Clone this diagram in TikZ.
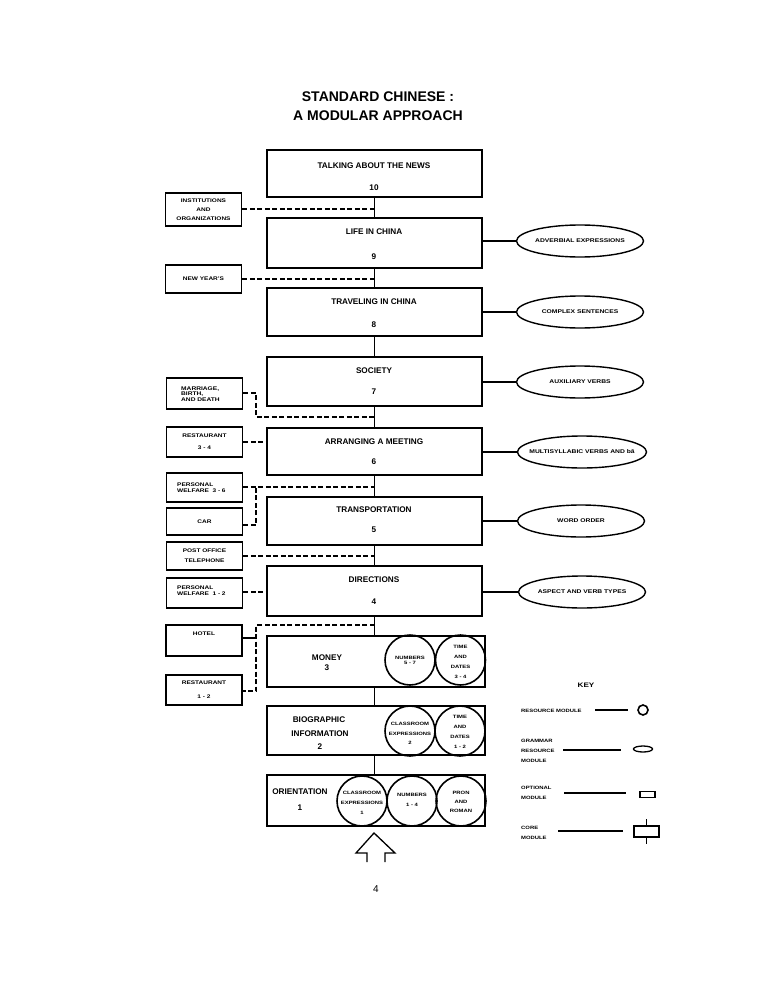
\documentclass[tikz,border=0pt]{standalone}
\usepackage{fontspec}
\usepackage{graphicx}
\setmainfont{Liberation Sans}
\newcommand\W[1]{\scalebox{1.25}[1]{#1}}
\usetikzlibrary{shapes.geometric}
\begin{document}
\begin{tikzpicture}[x=1pt,y=-1pt,
  core/.style={draw,line width=1.6pt,inner sep=0pt},
  ctext/.style={font=\bfseries\fontsize{8.2}{9}\selectfont,inner sep=0pt},
  opt/.style={draw,line width=1.6pt,inner sep=0pt,minimum width=76pt,align=center},
  gram/.style={draw,ellipse,line width=1.4pt,minimum width=127pt,minimum height=32pt,inner sep=0pt,font=\bfseries\fontsize{5.4}{7}\selectfont},
  res/.style={draw,circle,line width=1.6pt,minimum size=50pt,inner sep=0pt,align=center},
  ctxt/.style={font=\bfseries\fontsize{4.7}{10}\selectfont,inner sep=0pt},
  dsh/.style={line width=1.2pt,dash pattern=on 5pt off 2.5pt},
  sol/.style={line width=1.4pt},
  ktext/.style={font=\bfseries\fontsize{4.7}{10}\selectfont,inner sep=0pt,align=left,anchor=west},
]
\useasboundingbox (0,0) rectangle (768,995);
\fill[white] (0,0) rectangle (768,995);

% title
\node[font=\bfseries\fontsize{14}{16}\selectfont] (title1) at (378,97) {STANDARD CHINESE :};
\node[font=\bfseries\fontsize{14}{16}\selectfont] (title2) at (378,116) {A MODULAR APPROACH};

% core modules
\node[core,minimum width=215pt,minimum height=47pt] (b10) at (374.5,173.5) {};
\node[core,minimum width=215pt,minimum height=50pt] (b9) at (374.5,243) {};
\node[core,minimum width=215pt,minimum height=48pt] (b8) at (374.5,312) {};
\node[core,minimum width=215pt,minimum height=49pt] (b7) at (374.5,381.5) {};
\node[core,minimum width=215pt,minimum height=47pt] (b6) at (374.5,451.5) {};
\node[core,minimum width=215pt,minimum height=48pt] (b5) at (374.5,521) {};
\node[core,minimum width=215pt,minimum height=50pt] (b4) at (374.5,591) {};
\node[core,minimum width=218pt,minimum height=51pt] (b3) at (376,661.5) {};
\node[core,minimum width=218pt,minimum height=49pt] (b2) at (376,730.5) {};
\node[core,minimum width=218pt,minimum height=51pt] (b1) at (376,800.5) {};

\node[ctext] (b10t) at (374,166) {TALKING ABOUT THE NEWS};
\node[ctext] (b10n) at (374,188) {10};
\node[ctext] (b9t) at (374,232) {LIFE IN CHINA};
\node[ctext] (b9n) at (374,257) {9};
\node[ctext] (b8t) at (374,302) {TRAVELING IN CHINA};
\node[ctext] (b8n) at (374,325) {8};
\node[ctext] (b7t) at (374,371) {SOCIETY};
\node[ctext] (b7n) at (374,392) {7};
\node[ctext] (b6t) at (374,442) {ARRANGING A MEETING};
\node[ctext] (b6n) at (374,462) {6};
\node[ctext] (b5t) at (374,510) {TRANSPORTATION};
\node[ctext] (b5n) at (374,530) {5};
\node[ctext] (b4t) at (374,580) {DIRECTIONS};
\node[ctext] (b4n) at (374,602) {4};
\node[ctext] (b3t) at (327,658) {MONEY};
\node[ctext] (b3n) at (327,668) {3};
\node[ctext] (b2t) at (319,720) {BIOGRAPHIC};
\node[ctext] (b2u) at (320,734) {INFORMATION};
\node[ctext] (b2n) at (320,747) {2};
\node[ctext] (b1t) at (300,792) {ORIENTATION};
\node[ctext] (b1n) at (300,808) {1};

% resource modules (circles)
\node[res] (r3a) at (410,660) {};
\node[ctxt,align=center] (r3at) at (410,660.5) {\W{NUMBERS}\\[-5pt]\W{5 - 7}};
\node[res] (r3b) at (460.5,660) {};
\node[ctxt,align=center] (r3bt) at (460.5,661.5) {\W{TIME}\\\W{AND}\\\W{DATES}\\\W{3 - 4}};
\node[res] (r2a) at (410,731) {};
\node[ctxt,align=center] (r2at) at (410,733.5) {\W{CLASSROOM}\\[-0.5pt]\W{EXPRESSIONS}\\[-0.5pt]\W{2}};
\node[res] (r2b) at (460,731) {};
\node[ctxt,align=center] (r2bt) at (460,732) {\W{TIME}\\\W{AND}\\\W{DATES}\\\W{1 - 2}};
\node[res] (r1a) at (362,801) {};
\node[ctxt,align=center] (r1at) at (362,802.5) {\W{CLASSROOM}\\\W{EXPRESSIONS}\\\W{1}};
\node[res] (r1b) at (412,801) {};
\node[ctxt,align=center] (r1bt) at (412,800) {\W{NUMBERS}\\\W{1 - 4}};
\node[res] (r1c) at (461,801) {};
\node[ctxt,align=center] (r1ct) at (461,802) {\W{PRON}\\[-1pt]\W{AND}\\[-1pt]\W{ROMAN}};

% spine
\draw[sol] (b10.south) -- (b9.north);
\draw[sol] (b9.south) -- (b8.north);
\draw[sol] (b8.south) -- (b7.north);
\draw[sol] (b7.south) -- (b6.north);
\draw[sol] (b6.south) -- (b5.north);
\draw[sol] (b5.south) -- (b4.north);
\draw[sol] (b4.south) -- (b4.south |- b3.north);
\draw[sol] (b4.south |- b3.south) -- (b4.south |- b2.north);
\draw[sol] (b4.south |- b2.south) -- (b4.south |- b1.north);

% optional modules
\node[opt,minimum height=33pt,font=\bfseries\fontsize{5.2}{9}\selectfont] (o1) at (203.5,209.5) {\W{INSTITUTIONS}\\\W{AND}\\\W{ORGANIZATIONS}};
\node[opt,minimum height=28pt,font=\bfseries\fontsize{5.2}{9}\selectfont] (o2) at (203.5,279) {\W{NEW YEAR'S}};
\node[opt,minimum height=31pt] (o3) at (204.5,393.5) {};
\node[font=\bfseries\fontsize{5.3}{5.8}\selectfont,align=left,anchor=west,inner sep=0pt] (o3t) at (181,394) {\W{MARRIAGE,}\\\W{BIRTH,}\\\W{AND DEATH}};
\node[opt,minimum height=30pt,font=\bfseries\fontsize{5.2}{12}\selectfont] (o4) at (204.5,442) {\W{RESTAURANT}\\\W{3 - 4}};
\node[opt,minimum height=29pt] (o5) at (204.5,487.5) {};
\node[font=\bfseries\fontsize{5.2}{6}\selectfont,align=left,anchor=west,inner sep=0pt] (o5t) at (177,487.5) {\W{PERSONAL}\\\W{WELFARE \ 3 - 6}};
\node[opt,minimum height=27pt,font=\bfseries\fontsize{5.2}{9}\selectfont] (o6) at (204.5,521.5) {\W{CAR}};
\node[opt,minimum height=28pt,font=\bfseries\fontsize{5.2}{10}\selectfont] (o7) at (204.5,556) {\W{POST OFFICE}\\\W{TELEPHONE}};
\node[opt,minimum height=30pt] (o8) at (204.5,593) {};
\node[font=\bfseries\fontsize{5.2}{6}\selectfont,align=left,anchor=west,inner sep=0pt] (o8t) at (177,591) {\W{PERSONAL}\\\W{WELFARE \ 1 - 2}};
\node[opt,minimum height=31pt,font=\bfseries\fontsize{5.2}{9}\selectfont] (o9) at (204,640.5) {\W{HOTEL}\\[4pt]};
\node[opt,minimum height=30pt,font=\bfseries\fontsize{5.2}{14}\selectfont] (o10) at (204,690) {\W{RESTAURANT}\\\W{1 - 2}};

% optional connectors
\coordinate (s1) at (374.5,209);
\coordinate (s2) at (374.5,279);
\coordinate (j3) at (256,393);
\coordinate (k3) at (256,417);
\coordinate (s3) at (374.5,417);
\coordinate (s5) at (374.5,487);
\coordinate (j6) at (256,487);
\coordinate (k6) at (256,525);
\coordinate (s7) at (374.5,556);
\coordinate (s9) at (374.5,625);
\coordinate (j9) at (256,625);
\coordinate (h9) at (256,638);
\coordinate (k10) at (256,691);
\coordinate (s8) at (267,592);

\draw[dsh] (o1.east |- s1) -- (s1);
\draw[dsh] (o2.east |- s2) -- (s2);
\draw[dsh] (o3.east |- j3) -- (j3) -- (k3) -- (s3);
\draw[dsh] (o4.east |- b6t) -- (b6.west |- b6t);
\draw[dsh] (o5.east |- s5) -- (s5);
\draw[dsh] (o6.east |- k6) -- (k6) -- (j6);
\draw[dsh] (o7.east |- s7) -- (s7);
\draw[dsh] (o8.east |- s8) -- (b4.west |- s8);
\draw[dsh] (s9) -- (j9) -- (k10) -- (o10.east |- k10);
\draw[sol] (o9.east |- h9) -- (h9);

% grammar resource modules
\node[gram] (g9) at (580,241) {\W{ADVERBIAL EXPRESSIONS}};
\node[gram] (g8) at (580,312) {\W{COMPLEX SENTENCES}};
\node[gram] (g7) at (580,382) {\W{AUXILIARY VERBS}};
\node[gram,inner xsep=-7pt] (g6) at (582,452) {\W{MULTISYLLABIC VERBS AND bǎ}};
\node[gram] (g5) at (581,521) {\W{WORD ORDER}};
\node[gram] (g4) at (582,592) {\W{ASPECT AND VERB TYPES}};
\draw[sol] (b9.east |- g9) -- (g9.west);
\draw[sol] (b8.east |- g8) -- (g8.west);
\draw[sol] (b7.east |- g7) -- (g7.west);
\draw[sol] (b6.east |- g6) -- (g6.west);
\draw[sol] (b5.east |- g5) -- (g5.west);
\draw[sol] (b4.east |- g4) -- (g4.west);

% entry arrow
\draw[line width=1.3pt] (367,862) -- (367,853) -- (356,853) -- (374,833) -- (395,853) -- (385,853) -- (385,862);
\node[font=\fontsize{10}{12}\selectfont] (pg) at (376,889) {4};

% key
\node[font=\bfseries\fontsize{6.5}{8}\selectfont] (key) at (586,685) {\W{KEY}};
\node[ktext] (k1) at (521,711) {\W{RESOURCE MODULE}};
\coordinate (k1a) at (595,710);
\coordinate (k1b) at (628,710);
\draw[line width=1.2pt] (k1a) -- (k1b);
\node[draw,circle,line width=1.6pt,minimum size=10pt,inner sep=0pt] (kc) at (643,710) {};

\node[ktext] (k2) at (521,751) {\W{GRAMMAR}\\\W{RESOURCE}\\\W{MODULE}};
\coordinate (k2a) at (563,750);
\coordinate (k2b) at (621,750);
\draw[line width=1.1pt] (k2a) -- (k2b);
\node[draw,ellipse,line width=1.3pt,minimum width=19pt,minimum height=6pt,inner sep=0pt] (ke) at (643,749) {};

\node[ktext] (k3t) at (521,793) {\W{OPTIONAL}\\\W{MODULE}};
\coordinate (k3a) at (564,793);
\coordinate (k3b) at (626,793);
\draw[line width=1.1pt] (k3a) -- (k3b);
\node[draw,line width=1.5pt,minimum width=15pt,minimum height=6pt,inner sep=0pt] (kr) at (647.5,794.5) {};

\node[ktext] (k4t) at (521,833) {\W{CORE}\\\W{MODULE}};
\coordinate (k4a) at (558,831);
\coordinate (k4b) at (623,831);
\draw[line width=1.1pt] (k4a) -- (k4b);
\node[draw,line width=1.6pt,minimum width=25pt,minimum height=11pt,inner sep=0pt] (kb) at (646.5,831.5) {};
\draw[line width=1.6pt] (kb.north) -- ++(0,-6);
\draw[line width=1.6pt] (kb.south) -- ++(0,6);
\end{tikzpicture}
\end{document}
